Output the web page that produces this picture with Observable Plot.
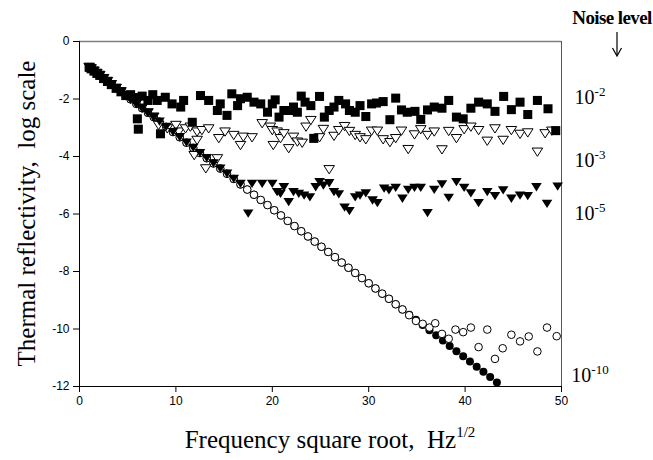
<!DOCTYPE html>
<html><head><meta charset="utf-8">
<script src="https://cdn.jsdelivr.net/npm/d3@7"></script>
<script src="https://cdn.jsdelivr.net/npm/@observablehq/plot@0.6"></script>
<style>
html,body{margin:0;padding:0;background:#fff;overflow:hidden}
#chart{width:653px;height:460px}
#chart svg{display:block}
</style>
</head><body><div id="chart"></div>
<script>
// ---- tick values ----
const xTicks = [0, 10, 20, 30, 40, 50];
const yTicks = [0, -2, -4, -6, -8, -10, -12];

// ---- noise-free (filled circles) ----
const sqrtF_free = [1.0,1.2,1.5,1.8,2.1,2.5,2.9,3.3,3.8,4.3,4.8,5.3,5.9,6.5,7.1,7.7,8.3,9.0,9.7,10.4,11.1,11.8,12.5,13.2,13.9,14.6,15.3,16.0,16.7,17.4,18.1,18.8,19.5,20.2,20.9,21.6,22.3,23.0,23.7,24.4,25.1,25.8,26.5,27.2,27.9,28.6,29.3,30.0,30.7,31.4,32.1,32.8,33.5,34.2,34.9,35.6,36.3,37.0,37.7,38.4,39.1,39.8,40.5,41.2,41.9,42.6,43.3];
const refl_free = [-0.90,-0.95,-1.03,-1.11,-1.18,-1.29,-1.39,-1.50,-1.63,-1.75,-1.88,-2.01,-2.17,-2.32,-2.48,-2.63,-2.79,-2.97,-3.15,-3.33,-3.52,-3.70,-3.88,-4.06,-4.24,-4.42,-4.60,-4.78,-4.97,-5.15,-5.33,-5.51,-5.69,-5.87,-6.05,-6.24,-6.42,-6.60,-6.78,-6.96,-7.14,-7.32,-7.50,-7.69,-7.87,-8.05,-8.23,-8.41,-8.59,-8.77,-8.95,-9.14,-9.32,-9.50,-9.68,-9.86,-10.04,-10.22,-10.40,-10.59,-10.77,-10.95,-11.13,-11.31,-11.49,-11.67,-11.86];

// ---- noise 1e-10 (open circles) ----
const sqrtF_n10 = [1.0,1.2,1.5,1.8,2.1,2.5,2.9,3.3,3.8,4.3,4.8,5.3,5.9,6.5,7.1,7.7,8.3,9.0,9.7,10.4,11.1,11.8,12.5,13.2,13.9,14.6,15.3,16.0,16.7,17.4,18.1,18.8,19.5,20.2,20.9,21.6,22.3,23.0,23.7,24.4,25.1,25.8,26.5,27.2,27.9,28.6,29.3,30.0,30.7,31.4,32.1,32.8,33.5,34.2,34.9,35.6,36.3,36.9,37.6,38.3,39.0,39.8,40.6,41.4,42.3,43.1,43.9,44.8,45.7,46.6,47.5,48.5,49.5];
const refl_n10 = [-0.90,-0.95,-1.03,-1.11,-1.18,-1.29,-1.39,-1.50,-1.63,-1.75,-1.88,-2.01,-2.17,-2.32,-2.48,-2.63,-2.79,-2.97,-3.15,-3.33,-3.52,-3.70,-3.88,-4.06,-4.24,-4.42,-4.60,-4.78,-4.97,-5.15,-5.33,-5.51,-5.69,-5.87,-6.05,-6.24,-6.42,-6.60,-6.78,-6.96,-7.14,-7.32,-7.50,-7.69,-7.87,-8.05,-8.23,-8.41,-8.59,-8.77,-8.95,-9.14,-9.32,-9.52,-9.72,-9.82,-9.95,-9.80,-10.17,-10.34,-10.02,-10.11,-9.95,-10.63,-10.02,-11.04,-10.67,-10.20,-10.43,-10.26,-10.78,-9.95,-10.25];

// ---- noise 1e-5 (filled down-triangles) ----
const sqrtF_n5 = [1.0,1.2,1.5,1.8,2.1,2.5,2.9,3.3,3.8,4.3,4.8,5.3,5.9,6.5,7.1,7.7,8.3,9.0,9.7,10.4,11.1,11.8,12.5,13.2,13.9,14.6,15.3,16.0,16.7,17.5,17.9,18.95,20.0,20.5,20.85,21.2,21.7,22.2,22.75,23.3,23.9,24.5,24.9,25.3,25.9,26.4,26.9,27.5,28.0,28.6,29.1,29.7,30.4,30.9,31.6,32.1,32.8,33.5,34.1,34.75,35.4,36.1,36.8,37.6,38.3,39.1,39.9,40.6,41.4,42.3,43.1,43.95,44.8,45.7,46.5,47.4,48.5,49.6];
const refl_n5 = [-0.90,-0.95,-1.03,-1.11,-1.18,-1.29,-1.39,-1.50,-1.63,-1.75,-1.88,-2.01,-2.17,-2.32,-2.48,-2.63,-2.79,-2.97,-3.15,-3.33,-3.52,-3.70,-3.88,-4.06,-4.24,-4.42,-4.60,-4.78,-4.95,-5.99,-4.95,-4.95,-4.95,-5.24,-5.30,-5.07,-5.59,-5.24,-5.30,-5.36,-5.42,-5.07,-4.89,-5.01,-4.93,-5.24,-5.32,-5.78,-5.90,-5.42,-5.36,-5.28,-5.53,-5.62,-5.12,-5.18,-5.09,-5.47,-5.16,-5.09,-5.09,-5.97,-5.16,-4.97,-5.44,-4.89,-5.09,-5.28,-5.62,-5.24,-5.38,-5.18,-5.47,-5.36,-5.38,-5.07,-5.65,-5.05];

// ---- noise 1e-3 (open down-triangles) ----
const sqrtF_n3 = [1.0,1.2,1.5,1.8,2.1,2.5,2.9,3.3,3.8,4.3,4.8,5.3,5.9,6.5,7.1,7.7,8.2,9.1,10.0,10.3,11.0,11.5,11.9,12.2,12.2,12.7,13.1,13.4,14.3,14.45,15.1,16.0,16.7,17.0,17.9,18.95,19.8,20.0,20.1,20.5,20.85,21.2,21.7,22.2,22.6,23.1,23.5,24.0,24.9,25.3,25.9,26.4,26.9,27.5,28.0,28.6,29.1,29.7,30.3,30.9,31.5,32.2,32.8,33.4,34.1,34.75,35.4,36.1,36.8,37.6,38.3,39.1,39.9,40.6,41.4,42.3,43.1,43.95,44.8,45.7,46.5,47.5,48.3,49.0];
const refl_n3 = [-0.90,-0.95,-1.03,-1.11,-1.18,-1.29,-1.39,-1.50,-1.63,-1.75,-1.88,-2.01,-2.17,-2.32,-2.48,-2.63,-2.92,-3.04,-2.92,-3.15,-3.04,-2.98,-3.97,-3.15,-3.44,-3.10,-4.43,-3.04,-4.08,-3.38,-3.15,-3.27,-3.62,-3.33,-3.35,-2.86,-2.98,-3.10,-3.62,-3.15,-3.38,-3.21,-3.73,-3.33,-3.50,-3.54,-2.98,-2.75,-3.35,-3.06,-4.46,-3.30,-3.10,-2.96,-3.13,-3.27,-3.35,-3.42,-3.12,-3.12,-3.42,-3.52,-3.38,-3.12,-3.76,-3.25,-3.07,-3.27,-3.15,-3.77,-3.13,-3.38,-3.07,-2.98,-3.10,-3.47,-3.04,-3.44,-3.10,-3.23,-3.18,-3.85,-3.21,-3.12];

// ---- noise 1e-2 (filled squares) ----
const sqrtF_n2 = [1.0,1.2,1.5,1.8,2.1,2.5,2.9,3.3,3.8,4.3,4.8,5.3,5.9,6.0,6.1,6.5,7.1,7.6,8.06,8.4,8.9,9.6,10.5,10.8,11.7,12.55,13.4,14.3,14.6,15.3,15.8,16.4,16.7,17.4,18.1,18.8,19.5,20.0,20.3,20.7,21.2,21.7,22.2,22.6,23.0,23.4,24.0,24.3,24.9,25.4,25.9,26.4,26.9,27.6,28.0,28.6,29.1,29.7,30.3,30.8,31.5,32.2,32.8,33.4,34.0,34.8,35.4,36.1,36.8,37.6,38.3,39.1,39.8,40.6,41.4,42.3,43.1,44.0,44.8,45.7,46.5,47.5,48.6,49.4];
const refl_n2 = [-0.90,-0.95,-1.03,-1.11,-1.18,-1.29,-1.39,-1.50,-1.63,-1.75,-1.88,-1.85,-1.95,-2.69,-3.05,-1.90,-2.05,-1.85,-2.05,-3.21,-1.94,-2.17,-2.28,-2.05,-2.81,-1.88,-2.05,-2.40,-2.17,-2.57,-1.82,-2.23,-1.99,-1.94,-2.11,-2.17,-2.46,-2.17,-2.03,-2.63,-2.40,-2.40,-2.28,-2.46,-1.90,-2.11,-2.23,-3.37,-1.91,-2.63,-2.40,-2.28,-2.05,-2.17,-2.40,-2.46,-2.23,-2.61,-2.17,-2.14,-2.09,-2.72,-1.97,-2.38,-2.46,-2.43,-2.71,-2.38,-2.28,-2.32,-2.05,-2.63,-2.69,-2.32,-2.11,-2.17,-2.43,-1.91,-2.37,-2.11,-2.54,-2.05,-2.34,-3.10];

// ---- right-hand noise-level annotations ----
const noiseExponents = ["-2", "-3", "-5", "-10"];
const noiseLabelY = [-1.95, -4.14, -5.98, -11.6];

const toRows = (xs, ys) => xs.map((x, i) => ({x, y: ys[i]}));

// downward-pointing triangle symbol
const triangleDown = {
  draw(context, size) {
    const r = Math.sqrt(size / Math.PI);
    const w = r * 1.15, h = r * 0.9;
    context.moveTo(-w, -h);
    context.lineTo(w, -h);
    context.lineTo(0, h);
    context.closePath();
  }
};

const fig = Plot.plot({
  width: 653,
  height: 460,
  marginLeft: 79,
  marginRight: 92,
  marginTop: 41,
  marginBottom: 74,
  style: {fontFamily: "'Liberation Sans', Arial, sans-serif", fontSize: "12px", color: "#000", background: "#fff", overflow: "visible"},
  x: {domain: [0, 50], ticks: xTicks, tickSize: 6, tickPadding: 4, label: null},
  y: {domain: [-12, 0], ticks: yTicks, tickSize: 6, tickPadding: 4, label: null, tickFormat: d => String(d)},
  marks: [
    Plot.ruleY([0], {stroke: "#808080", strokeWidth: 1.5}),
    Plot.ruleX([50], {stroke: "#555"}),
    Plot.ruleX([0], {stroke: "#000"}),
    Plot.ruleY([-12], {stroke: "#000"}),
    Plot.dot(toRows(sqrtF_free, refl_free), {x: "x", y: "y", symbol: "circle", r: 4.0, fill: "#000", stroke: "none"}),
    Plot.dot(toRows(sqrtF_n10, refl_n10), {x: "x", y: "y", symbol: "circle", r: 3.8, fill: "#fff", stroke: "#000", strokeWidth: 1}),
    Plot.dot(toRows(sqrtF_n3, refl_n3), {x: "x", y: "y", symbol: triangleDown, r: 4.6, fill: "#fff", stroke: "#000", strokeWidth: 1}),
    Plot.dot(toRows(sqrtF_n5, refl_n5), {x: "x", y: "y", symbol: triangleDown, r: 4.6, fill: "#000", stroke: "none"}),
    Plot.dot(toRows(sqrtF_n2, refl_n2), {x: "x", y: "y", symbol: "square", r: 5.1, fill: "#000", stroke: "none"})
  ]
});

document.getElementById("chart").appendChild(fig);

const svg = d3.select(fig);
const ys = fig.scale("y");
const serif = "'Liberation Serif', 'Times New Roman', serif";

// y axis title
svg.append("text")
  .attr("transform", "translate(35,213.5) rotate(-90)")
  .attr("text-anchor", "middle")
  .style("font-family", serif).style("font-size", "25px").style("white-space", "pre")
  .attr("fill", "#000")
  .text("Thermal reflectivity,  log scale");

// x axis title with superscript
const xt = svg.append("text")
  .attr("x", 330).attr("y", 448)
  .attr("text-anchor", "middle")
  .style("font-family", serif).style("font-size", "25px").style("white-space", "pre")
  .attr("fill", "#000");
xt.append("tspan").text("Frequency square root,  Hz");
xt.append("tspan").attr("dy", -11).style("font-size", "15px").text("1/2");

// Noise level header + arrow
svg.append("text")
  .attr("x", 612).attr("y", 24)
  .attr("text-anchor", "middle")
  .style("font-family", serif).style("font-size", "19px").style("font-weight", "bold")
  .style("letter-spacing", "-0.6px")
  .attr("fill", "#000")
  .text("Noise level");
svg.append("line").attr("x1", 617).attr("x2", 617).attr("y1", 32).attr("y2", 55)
  .attr("stroke", "#000").attr("stroke-width", 1.2);
svg.append("path").attr("d", "M612.5,48 L617,56 L621.5,48").attr("fill", "none")
  .attr("stroke", "#000").attr("stroke-width", 1.2);

// noise-level labels
noiseExponents.forEach((e, i) => {
  const t = svg.append("text")
    .attr("x", 590).attr("y", ys.apply(noiseLabelY[i]) + 7)
    .style("font-family", serif).style("font-size", "20px")
    .attr("fill", "#000");
  t.append("tspan").text("10");
  t.append("tspan").attr("dy", -8).style("font-size", "13px").text(e);
});
</script>
</body></html>
